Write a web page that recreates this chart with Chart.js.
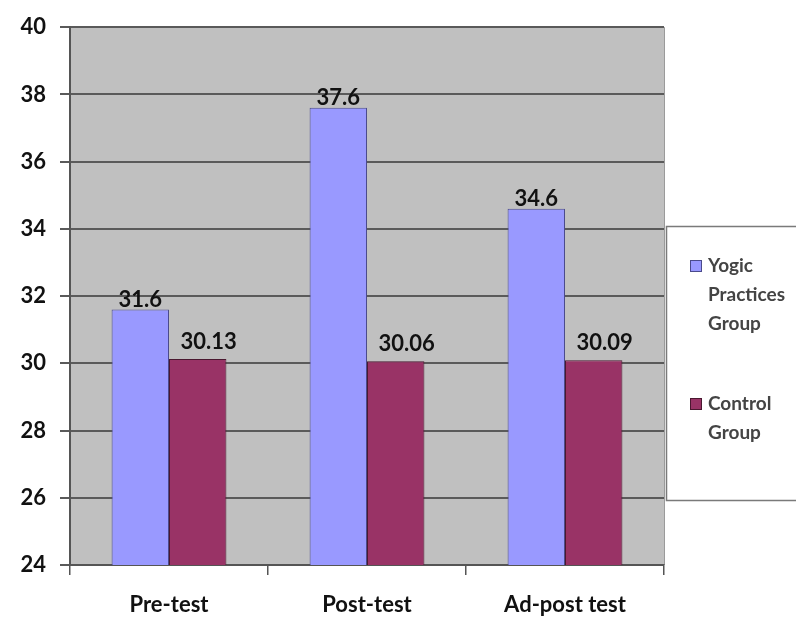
<!DOCTYPE html>
<html>
<head>
<meta charset="utf-8">
<script src="https://cdn.jsdelivr.net/npm/chart.js@4/dist/chart.umd.min.js"></script>
<style>
  html, body { margin: 0; padding: 0; background: #ffffff; }
  #wrap { width: 796px; height: 617px; }
</style>
</head>
<body>
<div id="wrap"><canvas id="chart" width="796" height="617"></canvas></div>
<script>
// Test phases on the x axis
const categories = ['Pre-test', 'Post-test', 'Ad-post test'];
// Mean scores per group
const yogicValues = [31.6, 37.6, 34.6];
const controlValues = [30.13, 30.06, 30.09];
// Series names, drawn in the legend as wrapped lines
const seriesNames = ['Yogic Practices Group', 'Control Group'];
const legendLines = [['Yogic', 'Practices', 'Group'], ['Control', 'Group']];
// Y axis range and step
const yMin = 24, yMax = 40, yStep = 2;

const FONT = 'Lato, "Liberation Sans", sans-serif';

// Gray plot area fill with a light right edge
const plotBackground = {
  id: 'plotBackground',
  beforeDraw(chart) {
    const { ctx, chartArea: a } = chart;
    ctx.save();
    ctx.fillStyle = '#c0c0c0';
    ctx.fillRect(a.left, a.top, a.right - a.left, a.bottom - a.top);
    ctx.strokeStyle = '#9a9a9a';
    ctx.lineWidth = 1;
    ctx.beginPath();
    ctx.moveTo(a.right + 0.5, a.top);
    ctx.lineTo(a.right + 0.5, a.bottom);
    ctx.stroke();
    ctx.restore();
  }
};

// Value labels above each bar
const valueLabels = {
  id: 'valueLabels',
  afterDatasetsDraw(chart) {
    const { ctx } = chart;
    const shifts = [{ dx: 0, dy: 2 }, { dx: 11, dy: 9 }];
    ctx.save();
    ctx.font = 'bold 22px ' + FONT;
    ctx.fillStyle = '#111111';
    ctx.textAlign = 'center';
    ctx.textBaseline = 'bottom';
    chart.data.datasets.forEach((ds, i) => {
      const meta = chart.getDatasetMeta(i);
      meta.data.forEach((bar, j) => {
        ctx.fillText(String(ds.data[j]), bar.x + shifts[i].dx, bar.y - shifts[i].dy + 3);
      });
    });
    ctx.restore();
  }
};

// Boxed legend on the right with wrapped series names
const boxLegend = {
  id: 'boxLegend',
  afterDraw(chart) {
    const { ctx } = chart;
    const left = 666, top = 226, bottom = 500;
    ctx.save();
    ctx.fillStyle = '#ffffff';
    ctx.fillRect(left, top, 200, bottom - top);
    ctx.strokeStyle = '#7a7a7a';
    ctx.lineWidth = 1.5;
    ctx.strokeRect(left + 0.5, top + 0.5, 200, bottom - top);
    ctx.font = 'bold 19px ' + FONT;
    ctx.textAlign = 'left';
    ctx.textBaseline = 'middle';
    const starts = [266, 404];
    chart.data.datasets.forEach((ds, i) => {
      const y0 = starts[i];
      ctx.fillStyle = ds.backgroundColor;
      ctx.fillRect(690, y0 - 6, 12, 12);
      ctx.strokeStyle = ds.borderColor;
      ctx.lineWidth = 1;
      ctx.strokeRect(690.5, y0 - 5.5, 11, 11);
      ctx.fillStyle = '#444444';
      legendLines[i].forEach((line, k) => {
        ctx.fillText(line, 708, y0 + k * 29);
      });
    });
    ctx.restore();
  }
};

new Chart(document.getElementById('chart'), {
  type: 'bar',
  data: {
    labels: categories,
    datasets: [
      {
        label: seriesNames[0],
        data: yogicValues,
        backgroundColor: '#9999ff',
        borderColor: '#4b4b8c',
        borderWidth: 1
      },
      {
        label: seriesNames[1],
        data: controlValues,
        backgroundColor: '#993366',
        borderColor: '#4a1830',
        borderWidth: 1
      }
    ]
  },
  options: {
    responsive: false,
    animation: false,
    categoryPercentage: 0.58,
    barPercentage: 1.0,
    layout: { padding: { top: 25, right: 132, bottom: 0, left: 0 } },
    plugins: {
      legend: { display: false },
      tooltip: { enabled: false }
    },
    scales: {
      x: {
        afterFit(scale) { scale.height = 52; },
        grid: {
          display: true,
          offset: true,
          drawOnChartArea: false,
          drawTicks: true,
          tickLength: 10,
          color: '#555555',
          lineWidth: 1.5
        },
        border: { display: true, color: '#555555', width: 2 },
        ticks: {
          color: '#111111',
          padding: 17,
          font: { family: FONT, size: 22, weight: 'bold' }
        }
      },
      y: {
        min: yMin,
        max: yMax,
        afterFit(scale) { scale.width = 70; },
        grid: {
          color: '#5a5a5a',
          lineWidth: 2,
          tickLength: 10
        },
        border: { display: true, color: '#555555', width: 2 },
        ticks: {
          stepSize: yStep,
          color: '#111111',
          padding: 14,
          font: { family: FONT, size: 22, weight: 'bold' }
        }
      }
    }
  },
  plugins: [plotBackground, valueLabels, boxLegend]
});
</script>
</body>
</html>
